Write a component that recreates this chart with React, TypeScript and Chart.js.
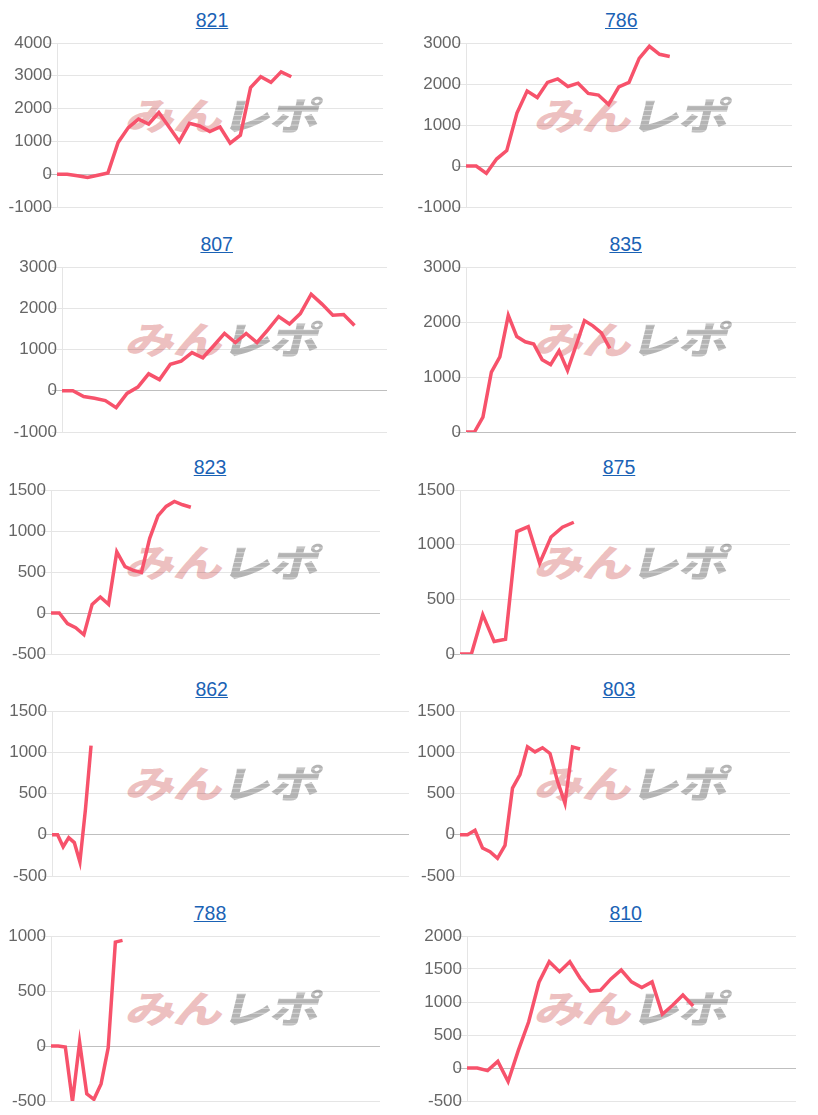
import React, { useEffect, useRef } from "react";
import { Chart, registerables } from "chart.js";

Chart.register(...registerables);

// ---------- data ----------
const titles = ["821", "786", "807", "835", "823", "875", "862", "803", "788", "810"];

const values821 = [0, 0, -50, -100, -30, 40, 970, 1420, 1680, 1530, 1880, 1440, 1000, 1550, 1470, 1300, 1440, 945, 1190, 2640, 2970, 2800, 3120, 2970];
const values786 = [0, 0, -180, 170, 375, 1290, 1830, 1670, 2040, 2125, 1940, 2020, 1770, 1730, 1500, 1930, 2040, 2625, 2920, 2725, 2670];
const values807 = [0, 0, -140, -180, -240, -410, -65, 90, 410, 270, 640, 720, 925, 800, 1090, 1390, 1170, 1390, 1170, 1475, 1800, 1620, 1870, 2340, 2100, 1830, 1850, 1580];
const values835 = [0, 0, 270, 1090, 1365, 2120, 1735, 1640, 1600, 1315, 1225, 1475, 1120, 1570, 2025, 1930, 1800, 1520];
const values823 = [0, 0, -130, -180, -265, 105, 195, 105, 745, 565, 520, 495, 910, 1185, 1300, 1360, 1320, 1290];
const values875 = [0, 0, 360, 115, 135, 1120, 1165, 830, 1070, 1160, 1205];
const values862 = [0, 0, -145, -35, -95, -330, 310, 1080];
const values803 = [0, 0, 55, -160, -205, -285, -130, 565, 730, 1065, 1005, 1055, 985, 650, 380, 1065, 1040];
const values788 = [0, 0, -10, -505, 35, -435, -485, -345, -15, 945, 960];
const values810 = [0, 0, -40, 100, -205, 270, 700, 1300, 1610, 1460, 1610, 1360, 1165, 1180, 1350, 1485, 1305, 1220, 1305, 815, 950, 1105, 940];

// number of x categories (hidden axis) per chart
const categoryCounts = [33, 33, 31, 40, 41, 30, 65, 45, 47, 33];

// y-axis ranges per chart
const yMins = [-1000, -1000, -1000, 0, -500, 0, -500, -500, -500, -500];
const yMaxs = [4000, 3000, 3000, 3000, 1500, 1500, 1500, 1500, 1000, 2000];
const ySteps = [1000, 1000, 1000, 1000, 500, 500, 500, 500, 500, 500];

const seriesList = [values821, values786, values807, values835, values823, values875, values862, values803, values788, values810];

function makeLabels(n: number): string[] {
  const out: string[] = [];
  for (let i = 1; i <= n; i++) out.push(String(i));
  return out;
}

// ---------- layout (positions only) ----------
const rowTops = [43.3, 266.5, 490, 711, 935.5];
const rowBottoms = [207.3, 431.5, 654.2, 875.7, 1100.3];
const titleYs = [20.3, 244.3, 467.3, 689, 913];
const axisXs = [57.3, 466.3, 62.3, 466.3, 50.7, 459.7, 52.3, 459.7, 50.7, 467];
const rightXs = [383, 792, 386.7, 795.7, 380, 789.7, 409, 789.7, 380, 795.7];
const titleXs = [212, 621.3, 216.7, 625.7, 210, 619, 211.7, 619, 210, 625.7];

const LINE_COLOR = "rgb(247, 82, 107)";
const PADV = 12;

type PanelProps = { idx: number };

function Panel({ idx }: PanelProps) {
  const ref = useRef<HTMLCanvasElement | null>(null);
  const row = Math.floor(idx / 2);
  const col = idx % 2;
  const panelLeft = col === 0 ? 0 : 409;
  const top = rowTops[row];
  const bottom = rowBottoms[row];
  const axisW = Math.round(axisXs[idx] - panelLeft);
  const cw = Math.round(rightXs[idx] - panelLeft + 2);
  const ch = Math.round(bottom - top + PADV * 2);
  const canvasTop = Math.round(top - PADV);

  useEffect(() => {
    if (!ref.current) return;
    const chart = new Chart(ref.current, {
      type: "line",
      data: {
        labels: makeLabels(categoryCounts[idx]),
        datasets: [
          {
            data: seriesList[idx],
            borderColor: LINE_COLOR,
            backgroundColor: LINE_COLOR,
            borderWidth: 3.5,
            pointRadius: 0,
            tension: 0,
            fill: false,
          },
        ],
      },
      options: {
        animation: false,
        responsive: false,
        maintainAspectRatio: false,
        devicePixelRatio: 1,
        layout: { padding: { top: PADV, bottom: PADV, left: 0, right: 2 } },
        plugins: {
          legend: { display: false },
          tooltip: { enabled: false },
          title: { display: false },
        },
        scales: {
          x: { display: false },
          y: {
            min: yMins[idx],
            max: yMaxs[idx],
            ticks: {
              stepSize: ySteps[idx],
              color: "#666",
              padding: -5,
              font: { family: "'Liberation Sans', Arial, sans-serif", size: 17 },
              callback: (v: any) => String(v),
            },
            grid: {
              color: (ctx: any) =>
                ctx.tick && ctx.tick.value === 0 ? "rgba(0,0,0,0.25)" : "rgba(0,0,0,0.1)",
              tickLength: 10,
            },
            border: { color: "rgba(0,0,0,0.1)" },
            afterFit: (scale: any) => {
              scale.width = axisW;
            },
          },
        },
      },
    });
    return () => chart.destroy();
  }, [idx]);

  const wmTop = top + 52;
  const wmLeft = panelLeft + 133;

  return (
    <>
      <div
        style={{
          position: "absolute",
          left: titleXs[idx] - 60,
          width: 120,
          top: titleYs[row] - 12,
          height: 24,
          lineHeight: "24px",
          textAlign: "center",
          fontFamily: "'Liberation Sans', Arial, sans-serif",
          fontSize: 19.5,
          color: "#1a62b5",
          textDecoration: "underline",
        }}
      >
        {titles[idx]}
      </div>
      <div
        style={{
          position: "absolute",
          left: wmLeft,
          top: wmTop,
          whiteSpace: "nowrap",
          fontFamily: "'Noto Sans CJK JP', sans-serif",
          fontWeight: 900,
          fontSize: 38,
          lineHeight: "38px",
          transform: "skewX(-14deg) scaleX(1.3)",
          transformOrigin: "left top",
          letterSpacing: -1,
        }}
      >
        <span style={{ color: "rgba(226, 150, 150, 0.6)" }}>みん</span>
        <span
          style={{
            color: "transparent",
            backgroundImage:
              "repeating-linear-gradient(to bottom, #b4b4b4 0px, #b4b4b4 4px, rgba(180,180,180,0.55) 4px, rgba(180,180,180,0.55) 5px)",
            WebkitBackgroundClip: "text",
            backgroundClip: "text",
          }}
        >
          レポ
        </span>
      </div>
      <canvas
        ref={ref}
        width={cw}
        height={ch}
        style={{
          position: "absolute",
          left: panelLeft,
          top: canvasTop,
          width: cw,
          height: ch,
        }}
      />
    </>
  );
}

export default function App() {
  return (
    <div
      style={{
        position: "absolute",
        left: 0,
        top: 0,
        width: 818,
        height: 1115,
        overflow: "hidden",
        background: "#fff",
      }}
    >
      {titles.map((_, i) => (
        <Panel key={i} idx={i} />
      ))}
    </div>
  );
}
